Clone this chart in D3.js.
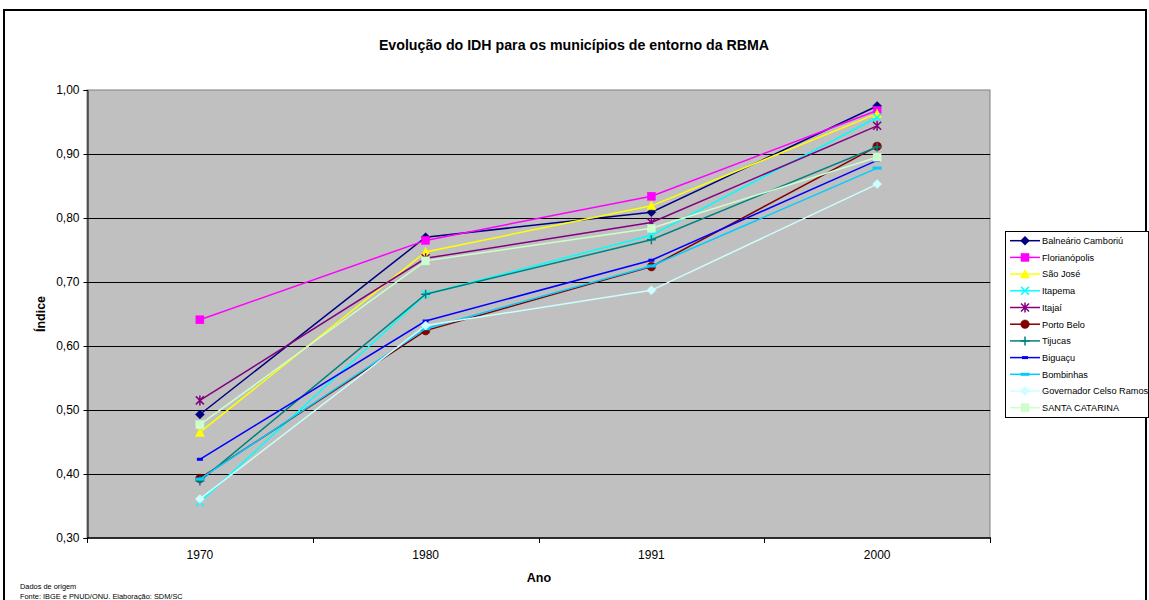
<!DOCTYPE html>
<html>
<head>
<meta charset="utf-8">
<script src="https://cdn.jsdelivr.net/npm/d3@7"></script>
<style>
  html, body { margin: 0; padding: 0; background: #fff; }
  svg { display: block; font-family: "Liberation Sans", Arial, sans-serif; }
</style>
</head>
<body>
<svg id="chart" width="1149" height="600"></svg>
<script>
// Census years on the horizontal axis
const anos = ["1970", "1980", "1991", "2000"];

// IDH per municipality, one value per census year
const balnearioCamboriu = [0.493, 0.770, 0.809, 0.975];
const florianopolis     = [0.641, 0.765, 0.834, 0.968];
const saoJose           = [0.465, 0.747, 0.819, 0.963];
const itapema           = [0.356, 0.681, 0.773, 0.957];
const itajai            = [0.515, 0.737, 0.793, 0.944];
const portoBelo         = [0.393, 0.624, 0.724, 0.912];
const tijucas           = [0.389, 0.681, 0.766, 0.911];
const biguacu           = [0.423, 0.639, 0.734, 0.890];
const bombinhas         = [0.392, 0.627, 0.725, 0.878];
const govCelsoRamos     = [0.361, 0.632, 0.687, 0.853];
const santaCatarina     = [0.477, 0.733, 0.784, 0.895];

const yTicks = [0.3, 0.4, 0.5, 0.6, 0.7, 0.8, 0.9, 1.0];

const series = [
  { name: "Balneário Camboriú",     values: balnearioCamboriu, color: "#000080", marker: "diamond" },
  { name: "Florianópolis",          values: florianopolis,     color: "#FF00FF", marker: "square" },
  { name: "São José",               values: saoJose,           color: "#FFFF00", marker: "triangle" },
  { name: "Itapema",                values: itapema,           color: "#00FFFF", marker: "x" },
  { name: "Itajaí",                 values: itajai,            color: "#800080", marker: "star" },
  { name: "Porto Belo",             values: portoBelo,         color: "#800000", marker: "circle" },
  { name: "Tijucas",                values: tijucas,           color: "#008080", marker: "plus" },
  { name: "Biguaçu",                values: biguacu,           color: "#0000FF", marker: "shortdash" },
  { name: "Bombinhas",              values: bombinhas,         color: "#00CCFF", marker: "longdash" },
  { name: "Governador Celso Ramos", values: govCelsoRamos,     color: "#CCFFFF", marker: "diamond" },
  { name: "SANTA CATARINA",         values: santaCatarina,     color: "#CCFFCC", marker: "square" }
];

const svg = d3.select("#chart");

// Outer chart frame
svg.append("rect")
  .attr("x", 4).attr("y", 10).attr("width", 1142).attr("height", 600)
  .attr("fill", "#fff").attr("stroke", "#000").attr("stroke-width", 2);

const plot = { left: 87, top: 90, right: 990, bottom: 538 };

const x = d3.scaleBand().domain(anos).range([plot.left, plot.right]).paddingInner(0).paddingOuter(0);
const cx = d => x(d) + x.bandwidth() / 2;
const y = d3.scaleLinear().domain([0.3, 1.0]).range([plot.bottom, plot.top]);

const locale = d3.formatLocale({ decimal: ",", thousands: ".", grouping: [3], currency: ["R$", ""] });
const fmt = locale.format(".2f");

// Plot area
svg.append("rect")
  .attr("x", plot.left).attr("y", plot.top)
  .attr("width", plot.right - plot.left).attr("height", plot.bottom - plot.top)
  .attr("fill", "#C0C0C0").attr("stroke", "#808080").attr("stroke-width", 1);

// Horizontal gridlines
svg.append("g")
  .selectAll("line")
  .data(yTicks.filter(t => t > 0.3 && t < 1.0))
  .join("line")
  .attr("x1", plot.left).attr("x2", plot.right)
  .attr("y1", d => Math.round(y(d)) + 0.5).attr("y2", d => Math.round(y(d)) + 0.5)
  .attr("stroke", "#000").attr("stroke-width", 1);

// Y axis
const yAxis = svg.append("g")
  .attr("transform", `translate(${plot.left + 0.5},0)`)
  .call(d3.axisLeft(y).tickValues(yTicks).tickFormat(fmt).tickSize(4).tickPadding(4));
yAxis.select(".domain").attr("stroke", "#000");
yAxis.selectAll(".tick line").attr("stroke", "#000");
yAxis.selectAll("text").attr("font-size", 12).attr("fill", "#000")
  .attr("font-family", "'Liberation Sans', Arial, sans-serif");

// X axis: labels centred in bands, ticks at band boundaries
const xAxis = svg.append("g")
  .attr("transform", `translate(0,${plot.bottom})`)
  .call(d3.axisBottom(x).tickSize(0).tickPadding(12));
xAxis.select(".domain").remove();
xAxis.selectAll("text").attr("font-size", 12).attr("fill", "#000")
  .attr("font-family", "'Liberation Sans', Arial, sans-serif");

svg.append("line")
  .attr("x1", plot.left).attr("x2", plot.right + 1)
  .attr("y1", plot.bottom).attr("y2", plot.bottom)
  .attr("stroke", "#000").attr("stroke-width", 1.5);

const boundaries = anos.map(a => x(a)).concat([x(anos[anos.length - 1]) + x.bandwidth()]);
svg.append("g")
  .selectAll("line")
  .data(boundaries)
  .join("line")
  .attr("x1", d => Math.round(d) + 0.5).attr("x2", d => Math.round(d) + 0.5)
  .attr("y1", plot.bottom).attr("y2", plot.bottom + 5)
  .attr("stroke", "#000").attr("stroke-width", 1);

// Marker shapes
function drawMarker(g, type, color, px, py) {
  const s = 4;
  switch (type) {
    case "diamond":
      g.append("path").attr("d", `M${px},${py - 4.5}L${px + 4.5},${py}L${px},${py + 4.5}L${px - 4.5},${py}Z`)
        .attr("fill", color).attr("stroke", color).attr("stroke-width", 0.5);
      break;
    case "square":
      g.append("rect").attr("x", px - s).attr("y", py - s).attr("width", 2 * s).attr("height", 2 * s)
        .attr("fill", color).attr("stroke", color).attr("stroke-width", 0.5);
      break;
    case "triangle":
      g.append("path").attr("d", `M${px},${py - 4.5}L${px + 4.5},${py + 4}L${px - 4.5},${py + 4}Z`)
        .attr("fill", color).attr("stroke", color).attr("stroke-width", 0.5);
      break;
    case "circle":
      g.append("circle").attr("cx", px).attr("cy", py).attr("r", 4.3)
        .attr("fill", color).attr("stroke", color).attr("stroke-width", 0.5);
      break;
    case "x":
      g.append("path").attr("d", `M${px - s},${py - s}L${px + s},${py + s}M${px - s},${py + s}L${px + s},${py - s}`)
        .attr("fill", "none").attr("stroke", color).attr("stroke-width", 1.5);
      break;
    case "star":
      g.append("path").attr("d", `M${px - s},${py - s}L${px + s},${py + s}M${px - s},${py + s}L${px + s},${py - s}M${px},${py - s - 1}L${px},${py + s + 1}`)
        .attr("fill", "none").attr("stroke", color).attr("stroke-width", 1.5);
      break;
    case "plus":
      g.append("path").attr("d", `M${px - 4.5},${py}L${px + 4.5},${py}M${px},${py - 4.5}L${px},${py + 4.5}`)
        .attr("fill", "none").attr("stroke", color).attr("stroke-width", 1.5);
      break;
    case "shortdash":
      g.append("rect").attr("x", px - 3).attr("y", py - 1.5).attr("width", 6).attr("height", 3)
        .attr("fill", color);
      break;
    case "longdash":
      g.append("rect").attr("x", px - 4.5).attr("y", py - 1.5).attr("width", 9).attr("height", 3)
        .attr("fill", color);
      break;
  }
}

const line = d3.line().x((d, i) => cx(anos[i])).y(d => y(d));

// Series lines and markers, first series drawn first
const seriesG = svg.append("g");
series.forEach(s => {
  const g = seriesG.append("g");
  g.append("path").datum(s.values)
    .attr("d", line)
    .attr("fill", "none").attr("stroke", s.color).attr("stroke-width", 1.5);
  s.values.forEach((v, i) => drawMarker(g, s.marker, s.color, cx(anos[i]), y(v)));
});

// Legend
const legend = { x: 1005.5, y: 231.5, w: 143, h: 186, row: 16.7, first: 240.7 };
svg.append("rect")
  .attr("x", legend.x).attr("y", legend.y).attr("width", legend.w).attr("height", legend.h)
  .attr("fill", "#fff").attr("stroke", "#000").attr("stroke-width", 1);
series.forEach((s, i) => {
  const ly = legend.first + i * legend.row;
  const g = svg.append("g");
  g.append("line").attr("x1", 1010).attr("x2", 1040).attr("y1", ly).attr("y2", ly)
    .attr("stroke", s.color).attr("stroke-width", 1.5);
  drawMarker(g, s.marker, s.color, 1025, ly);
  g.append("text").attr("x", 1042).attr("y", ly + 3.3)
    .attr("font-size", 9.2).attr("fill", "#000").text(s.name);
});

// Titles
svg.append("text")
  .attr("x", 574).attr("y", 50).attr("text-anchor", "middle")
  .attr("font-size", 14.2).attr("font-weight", "bold").attr("fill", "#000")
  .text("Evolução do IDH para os municípios de entorno da RBMA");

svg.append("text")
  .attr("x", 539).attr("y", 582).attr("text-anchor", "middle")
  .attr("font-size", 12.5).attr("font-weight", "bold").attr("fill", "#000")
  .text("Ano");

svg.append("text")
  .attr("transform", "translate(45,314) rotate(-90)").attr("text-anchor", "middle")
  .attr("font-size", 12.5).attr("font-weight", "bold").attr("fill", "#000")
  .text("Índice");

// Source notes
svg.append("text").attr("x", 20).attr("y", 589)
  .attr("font-size", 7.4).attr("fill", "#000").text("Dados de origem");
svg.append("text").attr("x", 20).attr("y", 599)
  .attr("font-size", 7.4).attr("fill", "#000").text("Fonte: IBGE e PNUD/ONU. Elaboração: SDM/SC");
</script>
</body>
</html>
